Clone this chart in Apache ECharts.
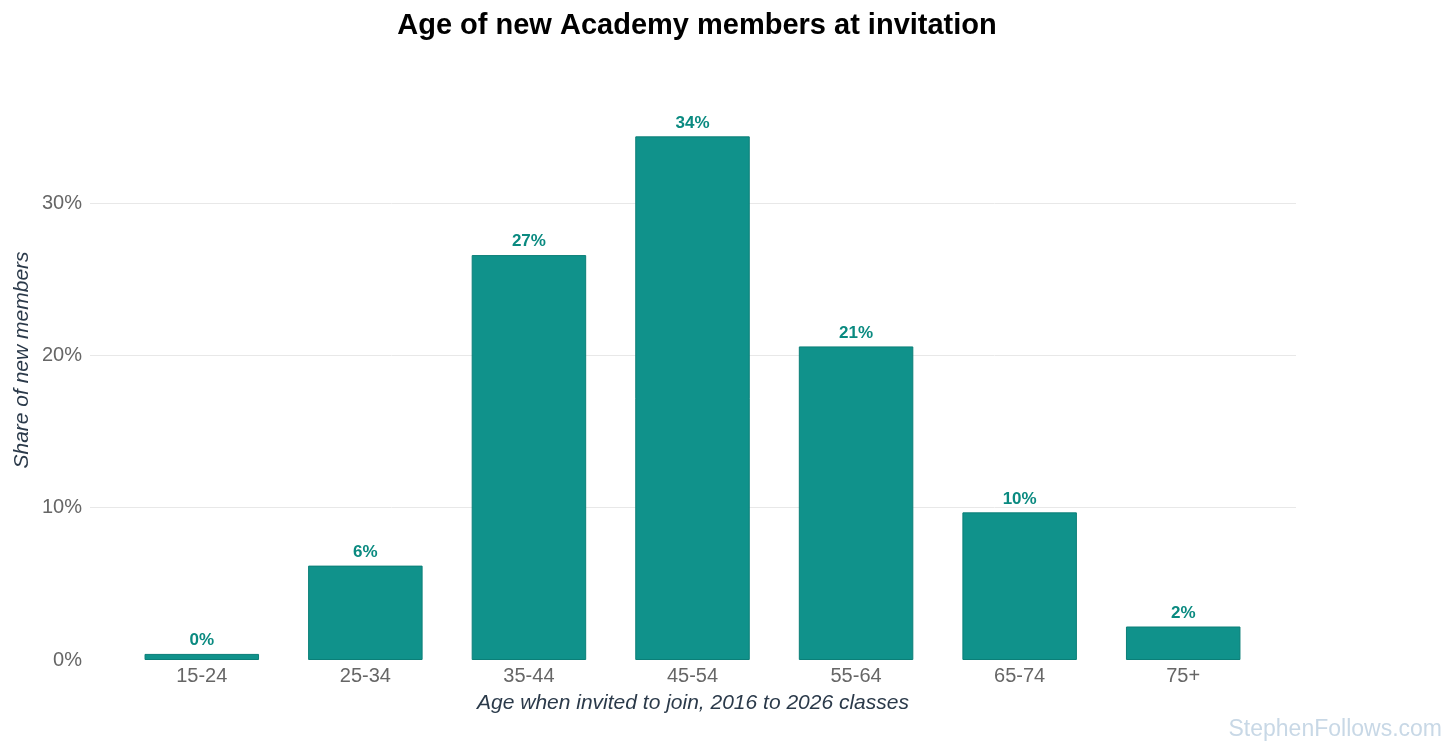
<!DOCTYPE html>
<html lang="en">
<head>
  <meta charset="UTF-8">
  <title>Age of new Academy members</title>
  <style>
    html, body { margin: 0; padding: 0; background: #fff; }
    #chart { width: 1456px; height: 754px; }
  </style>
</head>
<body>
  <div id="chart"></div>
  <script src="https://cdn.jsdelivr.net/npm/echarts@6/dist/echarts.min.js"></script>
  <script>
    // age bands and share of new members (%)
    var ageBands = ['15-24', '25-34', '35-44', '45-54', '55-64', '65-74', '75+'];
    var shares = [0.4, 6.2, 26.6, 34.4, 20.6, 9.7, 2.2];
    var yTicks = [0, 10, 20, 30];

    var font = '"Liberation Sans", Arial, sans-serif';
    var chart = echarts.init(document.getElementById('chart'));

    chart.setOption({
      animation: false,
      title: {
        text: 'Age of new Academy members at invitation',
        left: 692, top: 6, textAlign: 'center',
        textStyle: { fontFamily: font, fontSize: 29, fontWeight: 'bold', color: '#000' }
      },
      grid: [
        // panel with gridlines, labels and axis titles
        { left: 90, right: 160, top: 203, bottom: 94 },
        // bars
        { left: 120, right: 191, top: 112, bottom: 94 }
      ],
      xAxis: [
        {
          gridIndex: 0, type: 'value', min: 0, max: 1,
          axisLine: { show: false }, axisTick: { show: false },
          axisLabel: { show: false }, splitLine: { show: false },
          name: 'Age when invited to join, 2016 to 2026 classes',
          nameLocation: 'middle', nameGap: 33,
          nameTextStyle: { fontFamily: font, fontSize: 21, fontStyle: 'italic', color: '#2b3a4a' }
        },
        {
          gridIndex: 1, type: 'category', data: ageBands,
          axisLine: { show: false }, axisTick: { show: false },
          axisLabel: { fontFamily: font, fontSize: 20, color: '#666', margin: 6 }
        }
      ],
      yAxis: [
        {
          gridIndex: 0, type: 'value', min: yTicks[0], max: yTicks[yTicks.length - 1], interval: 10,
          axisLine: { show: false }, axisTick: { show: false },
          axisLabel: {
            fontFamily: font, fontSize: 20, color: '#666', margin: 8,
            formatter: function (v) { return v + '%'; }
          },
          splitLine: { lineStyle: { color: ['#ffffff', '#e8e8e8', '#e8e8e8', '#e8e8e8'], width: 1 } }
        },
        {
          gridIndex: 1, type: 'value', min: 0, max: 36,
          show: false, splitLine: { show: false }
        }
      ],
      series: [{
        type: 'bar',
        xAxisIndex: 1, yAxisIndex: 1,
        data: shares,
        barWidth: '70%',
        itemStyle: { color: '#10928b', borderColor: '#0b7f78', borderWidth: 1 },
        label: {
          show: true, position: 'top', distance: 5,
          fontFamily: font, fontSize: 17, fontWeight: 'bold', color: '#0a8a80',
          formatter: function (p) { return Math.round(p.value) + '%'; }
        }
      }],
      graphic: [
        {
          type: 'text', x: 22, y: 360, rotation: Math.PI / 2,
          style: {
            text: 'Share of new members', align: 'center', verticalAlign: 'middle',
            font: 'italic 21px ' + font, fill: '#2b3a4a'
          }
        },
        {
          type: 'text', x: 1442, y: 730,
          style: {
            text: 'StephenFollows.com', align: 'right', verticalAlign: 'middle',
            font: '23px ' + font, fill: '#c8d8e6'
          }
        }
      ]
    });
  </script>
</body>
</html>
